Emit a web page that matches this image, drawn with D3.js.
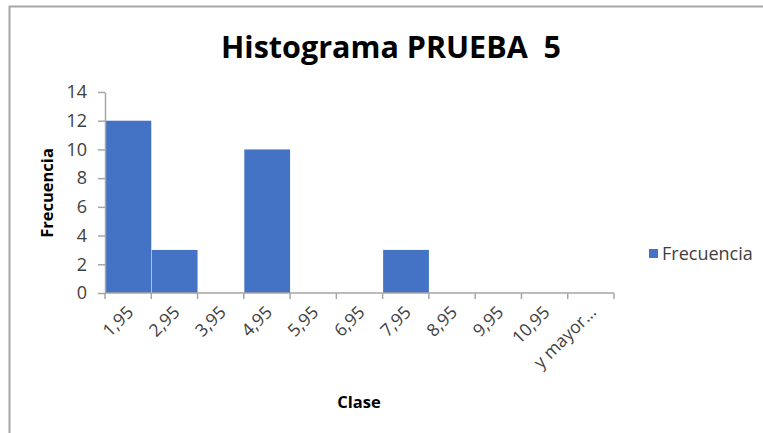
<!DOCTYPE html>
<html>
<head>
<meta charset="utf-8">
<script src="https://cdn.jsdelivr.net/npm/d3@7"></script>
<style>
  body { margin: 0; background: #fff; }
  svg { display: block; font-family: "Open Sans", "Liberation Sans", sans-serif; }
</style>
</head>
<body>
<div id="chart"></div>
<script>
// datos del histograma
const clases = ["1,95", "2,95", "3,95", "4,95", "5,95", "6,95", "7,95", "8,95", "9,95", "10,95", "y mayor..."];
const frecuencia = [12, 3, 0, 10, 0, 0, 3, 0, 0, 0, 0];
const yTicks = [0, 2, 4, 6, 8, 10, 12, 14];

const width = 763, height = 433;
const plot = { left: 105, right: 614, top: 92, bottom: 293 };

const svg = d3.select("#chart").append("svg")
  .attr("width", width)
  .attr("height", height);

// marco del gráfico
svg.append("path")
  .attr("d", `M9.5,${height} V6.5 H${width}`)
  .attr("fill", "none")
  .attr("stroke", "#a6a6a6")
  .attr("stroke-width", 2);

const x = d3.scaleBand()
  .domain(clases)
  .range([plot.left, plot.right])
  .padding(0);

const y = d3.scaleLinear()
  .domain([0, 14])
  .range([plot.bottom, plot.top]);

// barras
svg.append("g")
  .selectAll("rect")
  .data(clases.map((c, i) => ({ c, v: frecuencia[i] })).filter(d => d.v > 0))
  .enter()
  .append("rect")
  .attr("x", d => x(d.c) + 0.5)
  .attr("y", d => y(d.v))
  .attr("width", x.bandwidth() - 0.5)
  .attr("height", d => y(0) - y(d.v))
  .attr("fill", "#4472c4");

// eje Y
const yAxis = svg.append("g")
  .attr("transform", `translate(${plot.left},0)`)
  .call(d3.axisLeft(y).tickValues(yTicks).tickSize(7).tickPadding(11).tickSizeOuter(0));
yAxis.select(".domain").attr("stroke", "#a6a6a6").attr("stroke-width", 1.5);
yAxis.selectAll(".tick line").attr("stroke", "#a6a6a6").attr("stroke-width", 1.5);
yAxis.selectAll(".tick text")
  .attr("fill", "#404040")
  .style("font-size", "18px")
  .style("font-family", "'Open Sans', sans-serif");

// eje X
const xAxis = svg.append("g")
  .attr("transform", `translate(0,${plot.bottom})`);
xAxis.append("line")
  .attr("x1", plot.left).attr("x2", plot.right)
  .attr("stroke", "#a6a6a6").attr("stroke-width", 1.5);
const xTickPos = clases.map(c => x(c)).concat([plot.right]);
xAxis.selectAll("line.tk")
  .data(xTickPos)
  .enter()
  .append("line")
  .attr("class", "tk")
  .attr("x1", d => d).attr("x2", d => d)
  .attr("y1", 0).attr("y2", 6)
  .attr("stroke", "#a6a6a6").attr("stroke-width", 1.5);
xAxis.selectAll("text")
  .data(clases)
  .enter()
  .append("text")
  .attr("transform", d => `translate(${x(d) + x.bandwidth() / 2 + 2},${16}) rotate(-45)`)
  .attr("text-anchor", "end")
  .attr("dy", "0.35em")
  .attr("fill", "#404040")
  .style("font-size", "17.5px")
  .text(d => d);

// título
svg.append("text")
  .attr("x", 391)
  .attr("y", 58)
  .attr("text-anchor", "middle")
  .attr("font-weight", "bold")
  .attr("fill", "#000")
  .style("font-size", "30.5px")
  .style("white-space", "pre")
  .text("Histograma PRUEBA  5");

// títulos de ejes
svg.append("text")
  .attr("transform", "translate(53,193) rotate(-90)")
  .attr("text-anchor", "middle")
  .attr("font-weight", "bold")
  .style("font-size", "16.5px")
  .text("Frecuencia");

svg.append("text")
  .attr("x", 359)
  .attr("y", 408)
  .attr("text-anchor", "middle")
  .attr("font-weight", "bold")
  .style("font-size", "16.5px")
  .text("Clase");

// leyenda
const legend = svg.append("g").attr("transform", "translate(649,249)");
legend.append("rect")
  .attr("width", 9).attr("height", 9)
  .attr("fill", "#4472c4");
legend.append("text")
  .attr("x", 13).attr("y", 5)
  .attr("dy", "0.35em")
  .attr("fill", "#404040")
  .style("font-size", "18px")
  .text("Frecuencia");
</script>
</body>
</html>
